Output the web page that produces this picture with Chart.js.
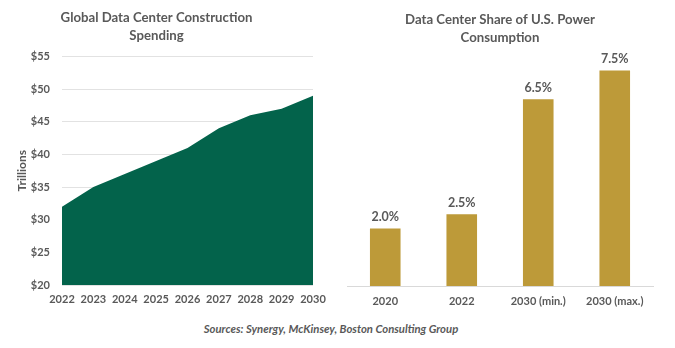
<!DOCTYPE html>
<html>
<head>
<meta charset="utf-8">
<script src="https://cdn.jsdelivr.net/npm/chart.js@4"></script>
<style>
  html, body { margin: 0; padding: 0; background: #fff; }
  body { width: 675px; height: 348px; position: relative; overflow: hidden; }
  #spendWrap { position: absolute; left: 0; top: 0; width: 340px; height: 310px; }
  #powerWrap { position: absolute; left: 340px; top: 0; width: 335px; height: 310px; }
  #sources {
    position: absolute; left: 0; top: 322px; width: 662px; text-align: center;
    font: italic bold 11.3px Lato, sans-serif; color: #595959;
  }
</style>
</head>
<body>
<div id="spendWrap"><canvas id="spendChart" width="340" height="310"></canvas></div>
<div id="powerWrap"><canvas id="powerChart" width="335" height="310"></canvas></div>
<div id="sources">Sources: Synergy, McKinsey, Boston Consulting Group</div>
<script>
// construction spending, $ trillions
const spendYears = ['2022', '2023', '2024', '2025', '2026', '2027', '2028', '2029', '2030'];
const spendValues = [32, 35, 37, 39, 41, 44, 46, 47, 49];

// share of U.S. power consumption, %
const powerLabels = ['2020', '2022', '2030 (min.)', '2030 (max.)'];
const powerValues = [2.0, 2.5, 6.5, 7.5];

const GRAY = '#595959';
const GREEN = '#03634b';
const GOLD = '#bd9a39';
const FONT = 'Lato, sans-serif';

const titleOpts = (text, top, bottom) => ({
  display: true,
  text: text,
  color: GRAY,
  font: { family: FONT, size: 13.2, weight: 'bold', lineHeight: 1.42 },
  padding: { top: top, bottom: bottom }
});

new Chart(document.getElementById('spendChart').getContext('2d'), {
  type: 'line',
  data: {
    labels: spendYears,
    datasets: [{
      data: spendValues,
      borderWidth: 0,
      borderColor: GREEN,
      backgroundColor: GREEN,
      fill: 'start',
      tension: 0,
      pointRadius: 0
    }]
  },
  options: {
    responsive: false,
    animation: false,
    layout: { padding: { left: 0, right: 27, top: 0, bottom: 0 } },
    plugins: {
      legend: { display: false },
      tooltip: { enabled: false },
      title: titleOpts(['Global Data Center Construction', 'Spending'], 8, 11)
    },
    scales: {
      x: {
        offset: false,
        grid: { display: false, drawTicks: false },
        border: { display: false },
        ticks: { color: GRAY, padding: 8, maxRotation: 0, font: { family: FONT, size: 11, weight: 'bold' } },
        afterFit: s => { s.height = 25; }
      },
      y: {
        min: 20, max: 55,
        ticks: {
          stepSize: 5, color: GRAY, padding: 12,
          font: { family: FONT, size: 11, weight: 'bold' },
          callback: v => '$' + v
        },
        grid: { color: '#e2e2e2', drawTicks: false },
        border: { display: false },
        title: {
          display: true, text: 'Trillions', color: GRAY,
          font: { family: FONT, size: 12, weight: 'bold' },
          padding: { top: 15, bottom: 0 }
        },
        afterFit: s => { s.width = 62; }
      }
    }
  }
});

// writes the value above each bar
const barValueLabels = {
  id: 'barValueLabels',
  afterDatasetsDraw(chart) {
    const ctx = chart.ctx;
    const meta = chart.getDatasetMeta(0);
    ctx.save();
    ctx.fillStyle = GRAY;
    ctx.font = 'bold 12.5px ' + FONT;
    ctx.textAlign = 'center';
    ctx.textBaseline = 'middle';
    meta.data.forEach((bar, i) => {
      ctx.fillText(powerValues[i].toFixed(1) + '%', bar.x, bar.y - 11.5);
    });
    ctx.restore();
  }
};

new Chart(document.getElementById('powerChart').getContext('2d'), {
  type: 'bar',
  data: {
    labels: powerLabels,
    datasets: [{
      data: powerValues,
      backgroundColor: GOLD,
      categoryPercentage: 0.8,
      barPercentage: 0.5
    }]
  },
  options: {
    responsive: false,
    animation: false,
    layout: { padding: { left: 7, right: 22, top: 0, bottom: 0 } },
    plugins: {
      legend: { display: false },
      tooltip: { enabled: false },
      title: titleOpts(['Data Center Share of U.S. Power', 'Consumption'], 10, 10)
    },
    scales: {
      x: {
        grid: { display: false, drawTicks: false },
        border: { display: true, color: '#d9d9d9', width: 1 },
        ticks: { color: GRAY, padding: 9, font: { family: FONT, size: 11, weight: 'bold' } },
        afterFit: s => { s.height = 24; }
      },
      y: {
        display: false,
        min: 0, max: 7.95
      }
    }
  },
  plugins: [barValueLabels]
});
</script>
</body>
</html>
